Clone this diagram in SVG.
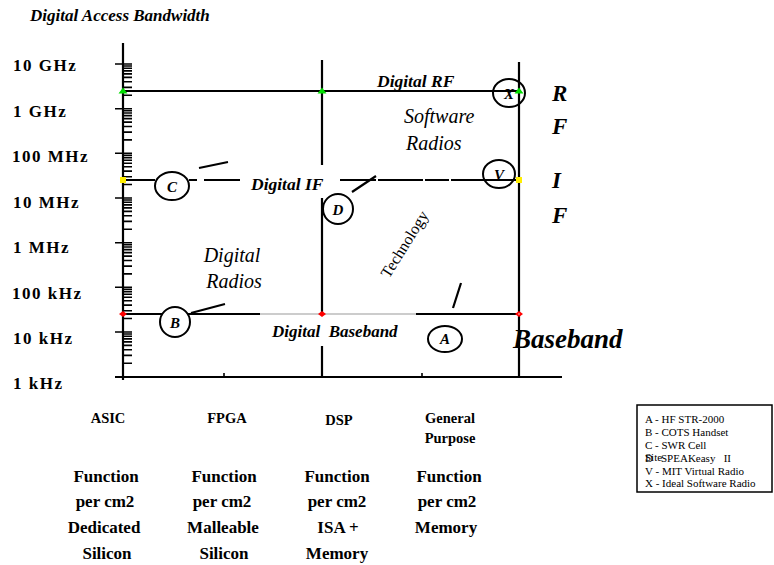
<svg xmlns="http://www.w3.org/2000/svg" width="774" height="565" viewBox="0 0 774 565">
<style>
.ln{stroke:#000;stroke-width:2.2;fill:none}
.tk{stroke:#000;stroke-width:1.6}
.ax{font-family:"Liberation Serif",serif;font-weight:bold;font-size:17px;letter-spacing:1.5px;fill:#000}
.bi{font-family:"Liberation Serif",serif;font-weight:bold;font-style:italic;fill:#000}
.it{font-family:"Liberation Serif",serif;font-style:italic;fill:#000}
.hd{font-family:"Liberation Serif",serif;font-weight:bold;font-size:14.5px;fill:#000;text-anchor:middle}
.fn{font-family:"Liberation Serif",serif;font-weight:bold;font-size:17px;fill:#000;text-anchor:middle}
.lg{font-family:"Liberation Serif",serif;font-size:11px;fill:#000}
.cir{stroke:#000;stroke-width:2;fill:none}
.cirw{stroke:#000;stroke-width:2;fill:#fff}
.cl{font-family:"Liberation Serif",serif;font-weight:bold;font-style:italic;font-size:15px;text-anchor:middle;fill:#000}
</style>
<rect width="774" height="565" fill="#fff"/>
<text class="bi" x="30" y="21" font-size="17">Digital Access Bandwidth</text>

<g id="axis">
<line class="ln" x1="123" y1="43" x2="123" y2="380" stroke-width="2.5"/>
<line class="ln" x1="115" y1="377" x2="562" y2="377" stroke-width="2.5"/>
<path class="tk" stroke-width="2" d="M115 64H132M115 108.7H132M115 153.3H132M115 198H132M115 242.7H132M115 287.3H132M115 332H132"/>
<path class="tk" d="M123 66H132M123 68.3H132M123 70.9H132M123 73.9H132M123 77.4H132M123 81.8H132M123 87.4H132M123 95.2H132
M123 110.7H132M123 113H132M123 115.6H132M123 118.6H132M123 122.1H132M123 126.5H132M123 132.1H132M123 139.9H132
M123 155.3H132M123 157.6H132M123 160.2H132M123 163.2H132M123 166.7H132M123 171.1H132M123 176.7H132M123 184.5H132
M123 200H132M123 202.3H132M123 204.9H132M123 207.9H132M123 211.4H132M123 215.8H132M123 221.4H132M123 229.2H132
M123 244.7H132M123 247H132M123 249.6H132M123 252.6H132M123 256.1H132M123 260.5H132M123 266.1H132M123 273.9H132
M123 289.3H132M123 291.6H132M123 294.2H132M123 297.2H132M123 300.7H132M123 305.1H132M123 310.7H132M123 318.5H132
M123 334H132M123 336.3H132M123 338.9H132M123 341.9H132M123 345.4H132M123 349.8H132M123 355.4H132M123 363.2H132"/>
<path class="tk" d="M224 373V377M422 373V377"/>
<text class="ax" x="13" y="71">10 GHz</text>
<text class="ax" x="13" y="117">1 GHz</text>
<text class="ax" x="12" y="162">100 MHz</text>
<text class="ax" x="13" y="208">10 MHz</text>
<text class="ax" x="13" y="253">1 MHz</text>
<text class="ax" x="12" y="299">100 kHz</text>
<text class="ax" x="13" y="344">10 kHz</text>
<text class="ax" x="13" y="389">1 kHz</text>
</g>

<g id="connectors">
<line class="ln" x1="123" y1="91" x2="519" y2="91"/>
<path class="ln" d="M322 60V165M322 198V314M322 346V377"/>
<line class="ln" x1="519" y1="62" x2="519" y2="377"/>
<path class="ln" d="M123 180H155M189 180H197M204 180H240M340 180H376M378 180H423M425 180H449M451 180H519"/>
<path class="ln" d="M123 314H260M416 314H519"/>
<line x1="260" y1="314" x2="416" y2="314" stroke="#999" stroke-width="1"/>
<path class="ln" d="M199 168L228 162M352 192L376 176M191 313L225 304M453 308L461 283"/>
</g>

<g id="labels">
<text class="bi" x="377" y="87" font-size="17.5">Digital RF</text>
<text class="it" x="404" y="123" font-size="20">Software</text>
<text class="it" x="406" y="150" font-size="20">Radios</text>
<text class="bi" x="251" y="190" font-size="17.5">Digital IF</text>
<text class="it" x="232" y="262" font-size="20" text-anchor="middle">Digital</text>
<text class="it" x="234" y="288" font-size="20" text-anchor="middle">Radios</text>
<text x="0" y="0" font-family="'Liberation Serif',serif" font-size="16" text-anchor="middle" transform="translate(409,247) rotate(-58)">Technology</text>
<text class="bi" x="272" y="337" font-size="17" xml:space="preserve">Digital  Baseband</text>
<text class="bi" x="513" y="348" font-size="27">Baseband</text>
<text class="bi" x="552" y="101" font-size="23">R</text>
<text class="bi" x="552" y="134" font-size="23">F</text>
<text class="bi" x="552" y="188" font-size="23">I</text>
<text class="bi" x="552" y="223" font-size="23">F</text>
</g>

<g id="node-X"><ellipse class="cir" cx="509" cy="93" rx="16" ry="14"/><text class="cl" x="509" y="99" font-weight="normal">X</text></g>
<g id="node-V"><ellipse class="cir" cx="499" cy="174" rx="16" ry="14"/><text class="cl" x="499" y="180" font-weight="normal">V</text></g>
<g id="node-C"><ellipse class="cirw" cx="172" cy="186" rx="17" ry="14"/><text class="cl" x="172" y="192">C</text></g>
<g id="node-D"><ellipse class="cirw" cx="338" cy="209" rx="15" ry="15"/><text class="cl" x="338" y="215">D</text></g>
<g id="node-B"><ellipse class="cirw" cx="175" cy="322" rx="15" ry="15"/><text class="cl" x="175" y="328">B</text></g>
<g id="node-A"><ellipse class="cirw" cx="445" cy="339" rx="17" ry="13"/><text class="cl" x="445" y="344" font-size="13">A</text></g>

<g id="markers">
<path fill="#00dd00" d="M118.5 93.5L123 87.5L127.5 93.5ZM317.5 93.5L322 87.5L326.5 93.5ZM514.5 93.5L519 87.5L523.5 93.5Z"/>
<rect x="120" y="177" width="6" height="6" fill="#ffee00"/>
<rect x="516" y="177" width="6" height="6" fill="#ffee00"/>
<path fill="#ff0000" d="M119 314L123 311L127 314L123 317ZM318 314L322 311L326 314L322 317ZM515 314L519 311L523 314L519 317Z"/>
<path fill="#fff" d="M518 314L519 313.2L520 314L519 314.8Z"/>
</g>

<g id="categories">
<text class="hd" x="108" y="423">ASIC</text>
<text class="hd" x="227" y="423">FPGA</text>
<text class="hd" x="339" y="425">DSP</text>
<text class="hd" x="450" y="423">General</text>
<text class="hd" x="450" y="443">Purpose</text>
<text class="fn" x="106" y="482">Function</text>
<text class="fn" x="105" y="507">per cm2</text>
<text class="fn" x="104" y="533">Dedicated</text>
<text class="fn" x="107" y="559">Silicon</text>
<text class="fn" x="224" y="482">Function</text>
<text class="fn" x="222" y="507">per cm2</text>
<text class="fn" x="223" y="533">Malleable</text>
<text class="fn" x="224" y="559">Silicon</text>
<text class="fn" x="337" y="482">Function</text>
<text class="fn" x="337" y="507">per cm2</text>
<text class="fn" x="338" y="533">ISA +</text>
<text class="fn" x="337" y="559">Memory</text>
<text class="fn" x="449" y="482">Function</text>
<text class="fn" x="447" y="507">per cm2</text>
<text class="fn" x="446" y="533">Memory</text>
</g>

<g id="legend">
<rect x="637" y="405" width="135" height="87" fill="#fff" stroke="#000" stroke-width="1.5"/>
<text class="lg" x="645" y="423">A - HF STR-2000</text>
<text class="lg" x="645" y="436">B - COTS Handset</text>
<text class="lg" x="645" y="449">C - SWR Cell</text>
<text class="lg" x="645" y="462">D</text>
<text class="lg" x="645" y="461" font-size="8.5">Site</text>
<text class="lg" x="661" y="462" xml:space="preserve">SPEAKeasy   II</text>
<text class="lg" x="645" y="475">V - MIT Virtual Radio</text>
<text class="lg" x="645" y="487">X - Ideal Software Radio</text>
</g>
</svg>
